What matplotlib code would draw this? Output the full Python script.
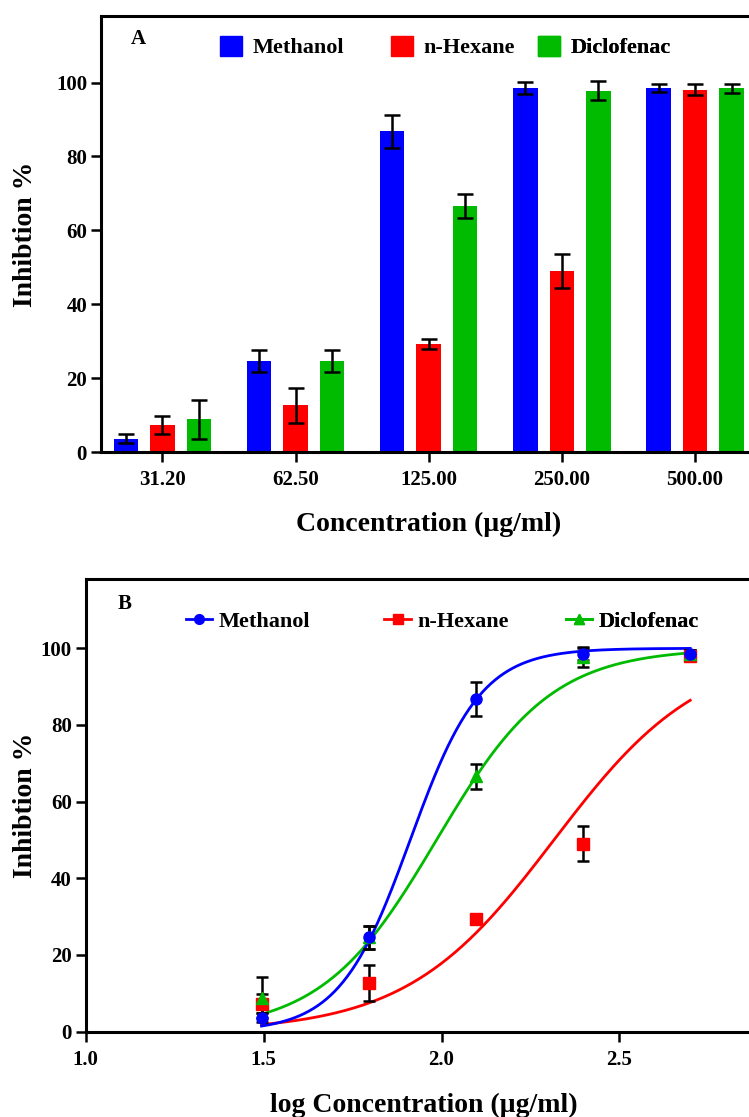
import numpy as np
import matplotlib.pyplot as plt
from matplotlib.patches import Patch
from matplotlib.lines import Line2D

plt.rcParams['font.family'] = ['Liberation Serif', 'DejaVu Serif']
plt.rcParams['font.weight'] = 'bold'

# data (mean +/- error)
conc = [31.2, 62.5, 125.0, 250.0, 500.0]
conc_labels = ['31.20', '62.50', '125.00', '250.00', '500.00']
methanol = [3.6, 24.6, 86.8, 98.5, 98.5]
methanol_err = [1.2, 3.0, 4.5, 1.6, 1.1]
hexane = [7.3, 12.6, 29.3, 49.0, 98.1]
hexane_err = [2.4, 4.7, 1.3, 4.6, 1.5]
diclofenac = [8.9, 24.6, 66.6, 97.8, 98.4]
diclofenac_err = [5.3, 3.0, 3.2, 2.6, 1.1]

# fitted dose-response parameters (logEC50, hill slope), bottom 0, top 100
fit_methanol = (1.912, 4.38)
fit_hexane = (2.316, 2.10)
fit_diclofenac = (1.986, 2.69)

names = ['Methanol', 'n-Hexane', 'Diclofenac']
colors = ['#0000ff', '#ff0000', '#00bb00']
markers = ['o', 's', '^']

fig = plt.figure(figsize=(7.49, 11.17), dpi=100)


def style_axes(ax):
    for s in ax.spines.values():
        s.set_linewidth(2.2)
    ax.tick_params(width=1.8, length=7, labelsize=15, pad=3)
    for lab in ax.get_xticklabels() + ax.get_yticklabels():
        lab.set_fontweight('bold')


def add_legend(ax, handle, name, xf, yf, hlen, hpad, hheight=0.7):
    # one entry per legend so the uneven spacing of the original can be kept
    leg = ax.legend([handle], [name], frameon=False, loc='center left',
                    bbox_to_anchor=(xf, yf), borderpad=0, borderaxespad=0,
                    handlelength=hlen, handleheight=hheight, handletextpad=hpad,
                    prop={'weight': 'bold', 'size': 16})
    ax.add_artist(leg)


# ---------- panel A : bar chart ----------
axA = fig.add_axes([0.1348, 0.5953, 0.875, 0.3903])
x = np.arange(len(conc))
w = 0.184
off = 0.274
series = [(methanol, methanol_err), (hexane, hexane_err), (diclofenac, diclofenac_err)]
for i, (vals, errs) in enumerate(series):
    axA.bar(x + (i - 1) * off, vals, width=w, color=colors[i], zorder=2)
    axA.errorbar(x + (i - 1) * off, vals, yerr=errs, fmt='none', ecolor='black',
                 elinewidth=1.8, capsize=5.5, capthick=1.8, zorder=3)
axA.set_xlim(-0.461, 4.46)
axA.set_ylim(0, 118)
axA.set_xticks(x)
axA.set_xticklabels(conc_labels)
axA.set_yticks([0, 20, 40, 60, 80, 100])
style_axes(axA)
axA.tick_params(axis='x', pad=6)
axA.set_xlabel('Concentration (µg/ml)', fontsize=20, fontweight='bold', labelpad=16)
axA.set_ylabel('Inhibtion %', fontsize=20, fontweight='bold')
axA.yaxis.set_label_coords(-0.096, 0.5)
axA.text(0.046, 0.935, 'A', transform=axA.transAxes, fontsize=15, fontweight='bold')
for i, xf in enumerate([0.1815, 0.4424, 0.6667]):
    add_legend(axA, Patch(color=colors[i]), names[i], xf, 0.929, 1.0, 0.45, 1.0)

# ---------- panel B : log dose-response ----------
axB = fig.add_axes([0.1144, 0.0764, 0.9026, 0.405])
logc = np.log10(conc)
xs = np.linspace(logc[0], logc[-1], 300)
fits = [fit_methanol, fit_hexane, fit_diclofenac]
for i in [1, 2, 0]:
    vals, errs = series[i]
    ec, h = fits[i]
    axB.plot(xs, 100 / (1 + 10 ** ((ec - xs) * h)), color=colors[i], lw=2.0, zorder=2)
    axB.errorbar(logc, vals, yerr=errs, fmt='none', ecolor='black',
                 elinewidth=1.8, capsize=4.5, capthick=1.8, zorder=3)
    axB.plot(logc, vals, linestyle='none', marker=markers[i], color=colors[i],
             markersize=8, zorder=4)
axB.set_xlim(1.0, 2.9)
axB.set_ylim(0, 118)
axB.set_xticks([1.0, 1.5, 2.0, 2.5])
axB.set_xticklabels(['1.0', '1.5', '2.0', '2.5'])
axB.set_yticks([0, 20, 40, 60, 80, 100])
style_axes(axB)
axB.tick_params(axis='x', pad=6)
axB.set_xlabel('log Concentration (µg/ml)', fontsize=20, fontweight='bold', labelpad=17)
axB.set_ylabel('Inhibtion %', fontsize=20, fontweight='bold')
axB.yaxis.set_label_coords(-0.071, 0.5)
axB.text(0.048, 0.935, 'B', transform=axB.transAxes, fontsize=15, fontweight='bold')
for i, xf in enumerate([0.148, 0.442, 0.710]):
    hb = Line2D([0], [0], color=colors[i], marker=markers[i], lw=2, markersize=7)
    add_legend(axB, hb, names[i], xf, 0.906, 1.2, 0.3)

fig.savefig('out.png', dpi=100)
